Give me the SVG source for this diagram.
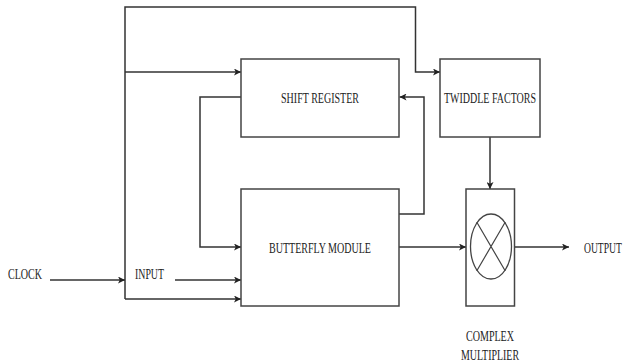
<svg xmlns="http://www.w3.org/2000/svg" width="626" height="362" viewBox="0 0 626 362">
<style>
.box{fill:#fff;stroke:#444;stroke-width:1.5}
.ln{fill:none;stroke:#333;stroke-width:1.5}
.lbl{font-family:"Liberation Serif","Times New Roman",serif;font-size:15px;fill:#222}
</style>
<defs>
<marker id="arr" viewBox="0 0 10 10" refX="10" refY="5" markerWidth="7" markerHeight="7" orient="auto" markerUnits="userSpaceOnUse">
<path d="M0,0 L10,5 L0,10 L2.5,5 Z" fill="#222"/>
</marker>
</defs>
<rect width="626" height="362" fill="#fff"/>
<g id="connectors">
<path class="ln" d="M125,299 V7 H415.5 V72 H440" marker-end="url(#arr)"/>
<path class="ln" d="M125,72 H241" marker-end="url(#arr)"/>
<path class="ln" d="M241,97 H200 V247 H241" marker-end="url(#arr)"/>
<path class="ln" d="M399,214 H424 V97 H399.5" marker-end="url(#arr)"/>
<path class="ln" d="M490,137 V189" marker-end="url(#arr)"/>
<path class="ln" d="M399,247 H466" marker-end="url(#arr)"/>
<path class="ln" d="M515,247 H569" marker-end="url(#arr)"/>
<path class="ln" d="M50,280 H125" marker-end="url(#arr)"/>
<path class="ln" d="M175,280 H241" marker-end="url(#arr)"/>
<path class="ln" d="M125,299 H241" marker-end="url(#arr)"/>
</g>
<g id="shift-register">
<rect class="box" x="241" y="59" width="158" height="78"/>
<text class="lbl" x="281" y="103" textLength="78" lengthAdjust="spacingAndGlyphs">SHIFT REGISTER</text>
</g>
<g id="twiddle-factors">
<rect class="box" x="440" y="59" width="100" height="78"/>
<text class="lbl" x="444" y="103" textLength="92" lengthAdjust="spacingAndGlyphs">TWIDDLE FACTORS</text>
</g>
<g id="butterfly-module">
<rect class="box" x="241" y="189" width="158" height="117"/>
<text class="lbl" x="269" y="253" textLength="102" lengthAdjust="spacingAndGlyphs">BUTTERFLY MODULE</text>
</g>
<g id="complex-multiplier">
<rect class="box" x="466" y="189" width="48.5" height="117"/>
<ellipse cx="491" cy="246.5" rx="20.5" ry="32.5" fill="none" stroke="#444" stroke-width="1.3"/>
<path d="M476.7,222 L505.3,271 M505.3,222 L476.7,271" stroke="#444" stroke-width="1.2" fill="none"/>
<text class="lbl" x="466" y="341" textLength="48" lengthAdjust="spacingAndGlyphs">COMPLEX</text>
<text class="lbl" x="461" y="360" textLength="58" lengthAdjust="spacingAndGlyphs">MULTIPLIER</text>
</g>
<g id="clock">
<text class="lbl" x="8" y="279" textLength="34" lengthAdjust="spacingAndGlyphs">CLOCK</text>
</g>
<g id="input">
<text class="lbl" x="135" y="279" textLength="29" lengthAdjust="spacingAndGlyphs">INPUT</text>
</g>
<g id="output">
<text class="lbl" transform="translate(584,253) scale(0.64,1)">OUTPUT</text>
</g>
</svg>
